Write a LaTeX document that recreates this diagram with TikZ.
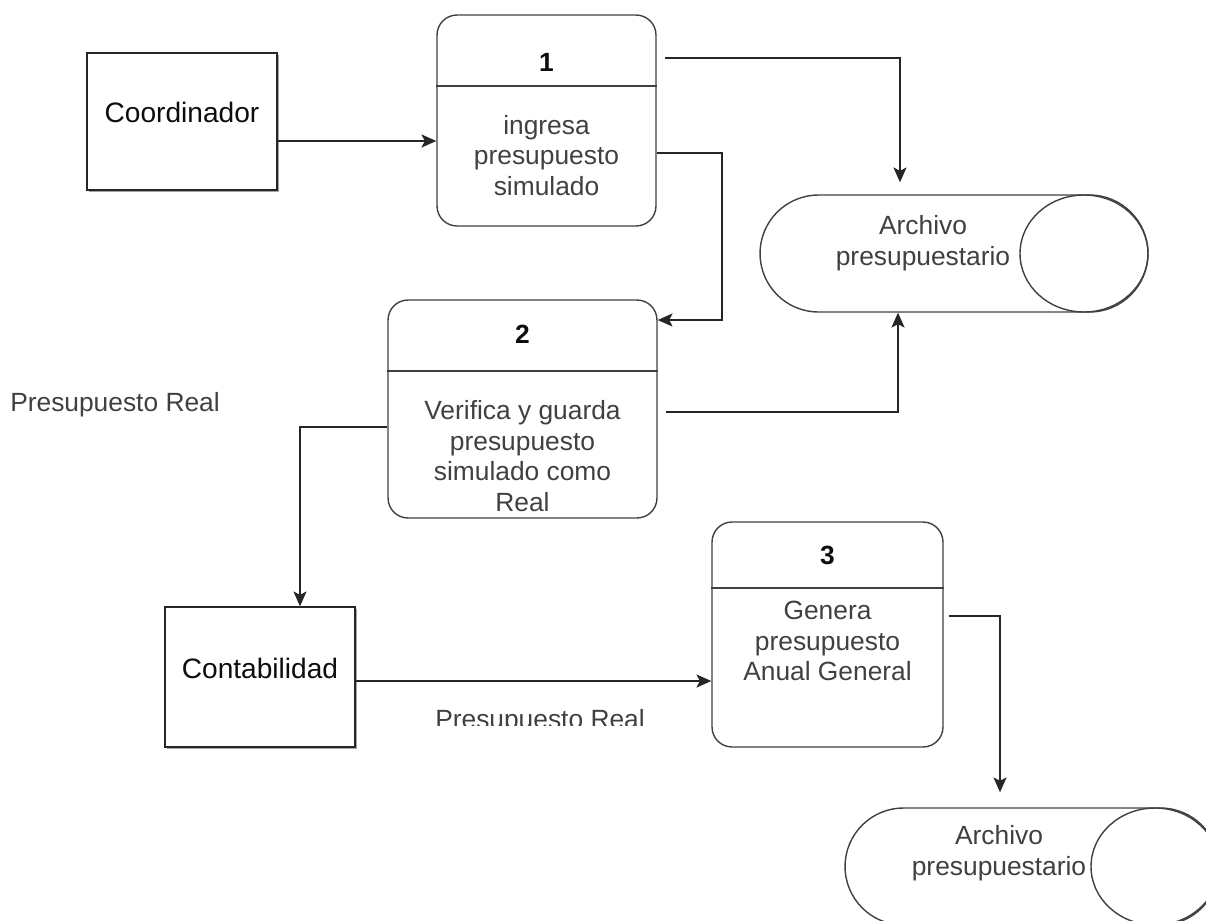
\documentclass[tikz,border=0pt]{standalone}
\usepackage{fontspec}
\setmainfont{Liberation Sans}
\usetikzlibrary{calc}
\usetikzlibrary{arrows.meta}
\usetikzlibrary{shadows}

\begin{document}
\begin{tikzpicture}[x=0.02cm,y=-0.02cm,
		flow/.style={draw=black!85,line width=0.8pt,-{Stealth[length=8.5pt,width=7.5pt,inset=2pt]}},
		ent/.style={draw=black!85,line width=0.8pt,fill=white,minimum width=3.8cm,minimum height=2.74cm,
			drop shadow={shadow xshift=1.3pt,shadow yshift=-1.3pt,fill=black!60,opacity=0.6}},
		proc/.style={draw=black!75,line width=0.8pt,rounded corners=0.4cm,inner sep=0pt},
		store/.style={draw=black!75,line width=0.8pt,minimum height=2.34cm,rounded corners=1.17cm,inner sep=0pt},
		txt/.style={font=\fontsize{15}{17.4}\selectfont,text=black!75,align=center,inner sep=0pt},
		enttxt/.style={font=\fontsize{16}{19}\selectfont,text=black!95,inner sep=0pt},
		num/.style={font=\fontsize{15}{18}\selectfont\bfseries,text=black!95,inner sep=0pt}]
		\useasboundingbox (0,0) rectangle (1206,920);
		\clip (0,0) rectangle (1206,920);
		\def\rs{0.8pt}
		\node[ent] (coord) at (182,121.5) {};
		\node[enttxt] (coordtxt) at (182,112) {Coordinador};
		\node[proc,minimum width=4.38cm,minimum height=4.22cm] (p1) at (546.5,120.5) {};
		\draw[draw=black!75,line width=\rs] (p1.west |- 0,86) -- (p1.east |- 0,86);
		\node[num] (p1n) at (546.5,62) {1};
		\node[txt] (p1t) at (546.5,155.5) {ingresa\\presupuesto\\simulado};
		\node[store,minimum width=7.76cm] (store1) at (954,253.5) {};
		\draw[draw=black!75,line width=\rs] (1084,253.5) ellipse (64 and 58.5);
		\node[txt] (store1t) at (923,243) {Archivo\\presupuestario};
		\node[proc,minimum width=5.38cm,minimum height=4.36cm] (p2) at (522.5,409) {};
		\draw[draw=black!75,line width=\rs] (p2.west |- 0,371) -- (p2.east |- 0,371);
		\node[num] (p2n) at (522.5,334) {2};
		\node[txt] (p2t) at (522.5,456) {Verifica y guarda\\presupuesto\\simulado como\\Real};
		\node[txt] (lbl1) at (115,405) {Presupuesto Real};
		\node[ent,minimum height=2.8cm] (conta) at (260,677) {};
		\node[enttxt] (contatxt) at (260,668) {Contabilidad};
		\node[proc,minimum width=4.62cm,minimum height=4.5cm] (p3) at (827.5,634.5) {};
		\draw[draw=black!75,line width=\rs] (p3.west |- 0,588) -- (p3.east |- 0,588);
		\node[num] (p3n) at (827.5,555) {3};
		\node[txt] (p3t) at (827.5,641) {Genera\\presupuesto\\Anual General};
		\begin{scope}
			\clip (400,690) rectangle (700,725);
			\node[txt,anchor=base] (lbl2) at (540,728) {Presupuesto Real};
		\end{scope}
		\node[store,minimum width=7.48cm] (store2) at (1032,866.5) {};
		\draw[draw=black!75,line width=\rs] (1155,866.5) ellipse (64 and 58.5);
		\node[txt] (store2t) at (999,853) {Archivo\\presupuestario};
		\draw[flow] (coord.east |- 0,141) -- (p1.west |- 0,141);
		\draw[flow] ($(p1.east |- 0,58)+(8,0)$) -| ($(store1.north -| 900,0)+(0,-12)$);
		\draw[flow] (p1.east |- 0,153) -- (722,153) -- (722,320) -- (p2.east |- 0,320);
		\draw[flow] ($(p2.east |- 0,412)+(8,0)$) -| (store1.south -| 898,0);
		\draw[flow] (p2.west |- 0,427) -| (conta.north -| 300,0);
		\draw[flow] (conta.east |- 0,681) -- (p3.west |- 0,681);
		\draw[flow] ($(p3.east |- 0,616)+(5,0)$) -| ($(store2.north -| 1000,0)+(0,-15)$);
	\end{tikzpicture}
\end{document}
